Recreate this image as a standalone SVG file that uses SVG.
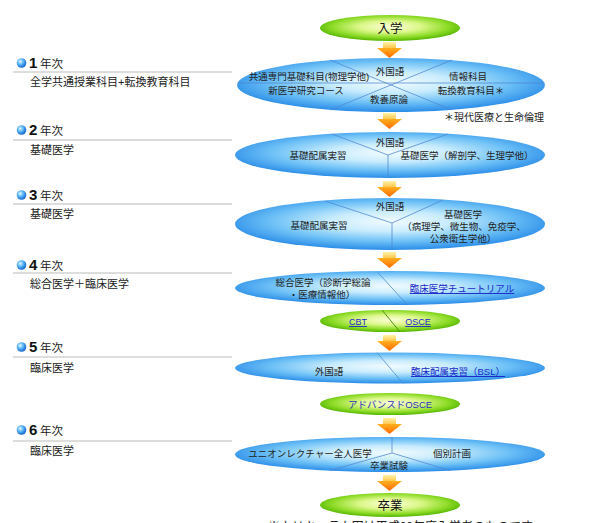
<svg xmlns="http://www.w3.org/2000/svg" xmlns:xlink="http://www.w3.org/1999/xlink" width="590" height="523" viewBox="0 0 590 523">
<defs>
<radialGradient id="gBlue" cx="50%" cy="45%" r="55%">
<stop offset="0" stop-color="#f2fbff"/>
<stop offset="0.35" stop-color="#c9ecfd"/>
<stop offset="0.7" stop-color="#6cc0f6"/>
<stop offset="1" stop-color="#2a8ce8"/>
</radialGradient>
<radialGradient id="gGreen" cx="50%" cy="45%" r="55%">
<stop offset="0" stop-color="#fbffd8"/>
<stop offset="0.4" stop-color="#dcf78a"/>
<stop offset="0.75" stop-color="#8edc28"/>
<stop offset="1" stop-color="#52b400"/>
</radialGradient>
<radialGradient id="gBall" cx="38%" cy="35%" r="65%">
<stop offset="0" stop-color="#e6f6ff"/>
<stop offset="0.45" stop-color="#5fbaf7"/>
<stop offset="1" stop-color="#1466d0"/>
</radialGradient>
<linearGradient id="gStem" x1="0" y1="0" x2="0" y2="1">
<stop offset="0" stop-color="#fff3a8"/>
<stop offset="1" stop-color="#ffc040"/>
</linearGradient>
<linearGradient id="gHead" x1="0" y1="0" x2="0" y2="1">
<stop offset="0" stop-color="#ffb020"/>
<stop offset="1" stop-color="#ff6a00"/>
</linearGradient>
<g id="arrow">
<rect x="6" y="0" width="13" height="7" fill="url(#gStem)"/>
<path d="M0,6 H25 L12.5,16 Z" fill="url(#gHead)"/>
</g>
</defs>
<style>
text{font-family:"Liberation Sans","Noto Sans CJK JP",sans-serif;fill:#222}
.lbl{font-size:11px}
.yr{font-size:15px;font-weight:bold;fill:#111}
.nen{font-size:11.5px}
.rule{stroke:#bbbbbb;stroke-width:1}
.blue{fill:url(#gBlue)}
.green{fill:url(#gGreen)}
.sep{stroke:#4f86d2;stroke-width:0.9;fill:none;opacity:0.85}
.gsep{stroke:#3f8f10;stroke-width:0.9;fill:none}
.t{font-size:9.5px;text-anchor:middle}
.big{font-size:12.5px;text-anchor:middle;fill:#111}
.link{fill:#1a28c8;text-decoration:underline}
.small{font-size:9px}
</style>
<rect width="590" height="523" fill="#ffffff"/>

<g id="years">
<g id="year1">
<circle cx="21.5" cy="63" r="4.8" fill="url(#gBall)"/>
<text class="yr" x="29" y="68">1</text><text class="nen" x="40" y="68">年次</text>
<line class="rule" x1="13" y1="72" x2="232" y2="72"/>
<text class="lbl" x="30" y="86">全学共通授業科目+転換教育科目</text>
</g>
<g id="year2">
<circle cx="21.5" cy="130" r="4.8" fill="url(#gBall)"/>
<text class="yr" x="29" y="135">2</text><text class="nen" x="40" y="135">年次</text>
<line class="rule" x1="13" y1="140" x2="232" y2="140"/>
<text class="lbl" x="30" y="154">基礎医学</text>
</g>
<g id="year3">
<circle cx="21.5" cy="195" r="4.8" fill="url(#gBall)"/>
<text class="yr" x="29" y="200">3</text><text class="nen" x="40" y="200">年次</text>
<line class="rule" x1="13" y1="204" x2="232" y2="204"/>
<text class="lbl" x="30" y="218">基礎医学</text>
</g>
<g id="year4">
<circle cx="21.5" cy="265" r="4.8" fill="url(#gBall)"/>
<text class="yr" x="29" y="270">4</text><text class="nen" x="40" y="270">年次</text>
<line class="rule" x1="13" y1="273" x2="232" y2="273"/>
<text class="lbl" x="30" y="288">総合医学＋臨床医学</text>
</g>
<g id="year5">
<circle cx="21.5" cy="347" r="4.8" fill="url(#gBall)"/>
<text class="yr" x="29" y="352">5</text><text class="nen" x="40" y="352">年次</text>
<line class="rule" x1="13" y1="357" x2="232" y2="357"/>
<text class="lbl" x="30" y="372">臨床医学</text>
</g>
<g id="year6">
<circle cx="21.5" cy="430" r="4.8" fill="url(#gBall)"/>
<text class="yr" x="29" y="435">6</text><text class="nen" x="40" y="435">年次</text>
<line class="rule" x1="13" y1="441" x2="232" y2="441"/>
<text class="lbl" x="30" y="455">臨床医学</text>
</g>
</g>

<g id="connectors">
<use xlink:href="#arrow" x="377" y="42"/>
<use xlink:href="#arrow" x="377" y="113"/>
<use xlink:href="#arrow" x="377" y="181"/>
<use xlink:href="#arrow" x="377" y="252"/>
<use xlink:href="#arrow" x="377" y="335"/>
<use xlink:href="#arrow" x="377" y="418"/>
<use xlink:href="#arrow" x="377" y="475"/>
</g>

<g id="nyugaku">
<ellipse class="green" cx="390" cy="28" rx="70" ry="13"/>
<text class="big" x="390" y="33">入学</text>
</g>

<g id="stage1">
<ellipse class="blue" cx="391" cy="85" rx="154" ry="27"/>
<path class="sep" d="M330,60 L452,110 M452,60 L330,110 M237.5,83 H544.5"/>
<text class="t" x="390" y="75">外国語</text>
<text class="t" x="309" y="80">共通専門基礎科目(物理学他)</text>
<text class="t" x="468" y="80">情報科目</text>
<text class="t" x="306" y="94">新医学研究コース</text>
<text class="t" x="471" y="94">転換教育科目＊</text>
<text class="t" x="389" y="103">教養原論</text>
<text class="t" x="494" y="121" style="font-size:10px">＊現代医療と生命倫理</text>
</g>

<g id="stage2">
<ellipse class="blue" cx="390" cy="155" rx="155" ry="23"/>
<path class="sep" d="M332,134 L388,155 L448,134 M388,155 V178"/>
<text class="t" x="390" y="146">外国語</text>
<text class="t" x="318" y="159">基礎配属実習</text>
<text class="t" x="467" y="159">基礎医学（解剖学、生理学他）</text>
</g>

<g id="stage3">
<ellipse class="blue" cx="390" cy="224" rx="155" ry="26"/>
<path class="sep" d="M325,201 L392,223 L443,200 M392,223 V250"/>
<text class="t" x="390" y="210">外国語</text>
<text class="t" x="319" y="229">基礎配属実習</text>
<text class="t" x="463" y="218">基礎医学</text>
<text class="t" x="464" y="230">（病理学、微生物、免疫学、</text>
<text class="t" x="463" y="242">公衆衛生学他）</text>
</g>

<g id="stage4">
<ellipse class="blue" cx="390" cy="288" rx="155" ry="17"/>
<path class="sep" d="M377,271.5 L407,304.5"/>
<text class="t" x="323" y="286">総合医学（診断学総論</text>
<text class="t" x="322" y="298">・医療情報他）</text>
<text class="t link" x="462" y="292">臨床医学チュートリアル</text>
</g>

<g id="exam1">
<ellipse class="green" cx="390" cy="321" rx="70" ry="11"/>
<path class="gsep" d="M382,310 L400,332"/>
<text class="t link small" x="358" y="325">CBT</text>
<text class="t link small" x="418" y="325">OSCE</text>
</g>

<g id="stage5">
<ellipse class="blue" cx="390" cy="368" rx="155" ry="15.5"/>
<path class="sep" d="M377,352.6 L403,383.4"/>
<text class="t" x="329" y="375">外国語</text>
<text class="t link" x="458" y="375">臨床配属実習（BSL）</text>
</g>

<g id="exam2">
<ellipse class="green" cx="390" cy="404" rx="70" ry="11"/>
<text class="t" x="390" y="408" style="fill:#2a30c0">アドバンスドOSCE</text>
</g>

<g id="stage6">
<ellipse class="blue" cx="390" cy="454.5" rx="155" ry="17.5"/>
<path class="sep" d="M392,437 V453 L330,470.5 M392,453 L450,470.5"/>
<text class="t" x="310" y="457">ユニオンレクチャー全人医学</text>
<text class="t" x="452" y="457">個別計画</text>
<text class="t" x="389" y="469">卒業試験</text>
</g>

<g id="sotsugyo">
<ellipse class="green" cx="390" cy="505" rx="70" ry="12"/>
<text class="big" x="390" y="510">卒業</text>
</g>

<text x="268" y="531" style="font-size:12px">※カリキュラム図は平成20年度入学者のものです</text>
</svg>
